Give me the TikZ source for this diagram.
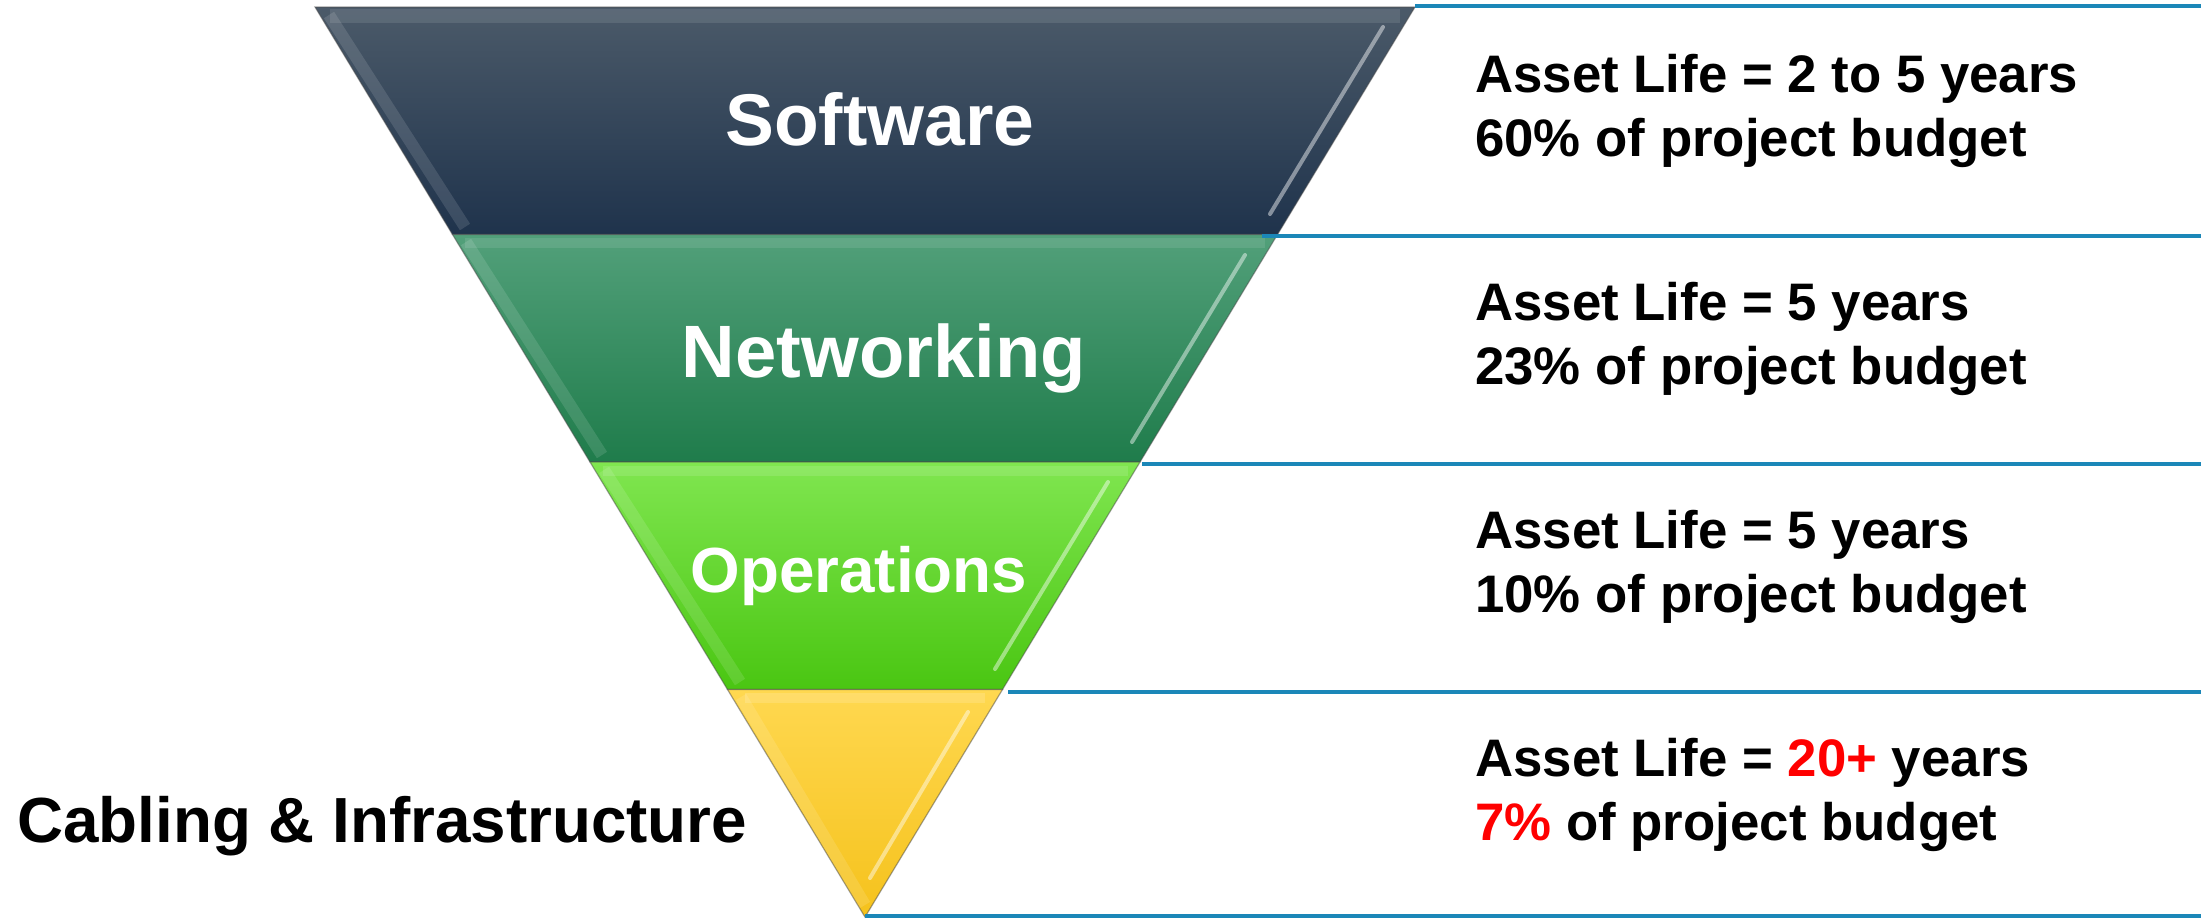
\documentclass[tikz,border=0pt]{standalone}
\usepackage{fontspec}
\setmainfont{Liberation Sans}
\definecolor{rule}{HTML}{1B87B8}
\definecolor{swTop}{HTML}{4B5A69}
\definecolor{swMid}{HTML}{263B52}
\definecolor{swBot}{HTML}{1F334C}
\definecolor{nwTop}{HTML}{52A07A}
\definecolor{nwMid}{HTML}{2F9063}
\definecolor{nwBot}{HTML}{1F7C4B}
\definecolor{opTop}{HTML}{80E650}
\definecolor{opMid}{HTML}{62DC2A}
\definecolor{opBot}{HTML}{4AC612}
\definecolor{cbTop}{HTML}{FFD850}
\definecolor{cbMid}{HTML}{FFD033}
\definecolor{cbBot}{HTML}{F5C21C}
\definecolor{hot}{HTML}{FF0000}
\tikzset{
  bandedge/.style={draw=black!70, draw opacity=0.5, line width=1.2bp},
  hilite/.style={white, opacity=0.45, line width=4bp, line cap=round},
  lobevel/.style={white, opacity=0.12, line width=12bp},
  rulerline/.style={rule, line width=3.2bp},
  bandlabel/.style={text=white, font=\bfseries\fontsize{73.5}{80}\selectfont, inner sep=0pt, anchor=base},
  infotext/.style={text=black, font=\bfseries\fontsize{53}{60}\selectfont, inner sep=0pt, anchor=base west},
}
\begin{document}
\begin{tikzpicture}[x=1bp,y=-1bp]
\useasboundingbox (0,0) rectangle (2201,919);
\fill[white] (0,0) rectangle (2201,919);
% bands
\shade[top color=swTop, middle color=swMid, bottom color=swBot, bandedge]
  (315,7) -- (1415,7) -- (1277.5,234.5) -- (452.5,234.5) -- cycle;
\shade[top color=nwTop, middle color=nwMid, bottom color=nwBot, bandedge]
  (452.5,234.5) -- (1277.5,234.5) -- (1140,462) -- (590,462) -- cycle;
\shade[top color=opTop, middle color=opMid, bottom color=opBot, bandedge]
  (590,462) -- (1140,462) -- (1002.5,689.5) -- (727.5,689.5) -- cycle;
\shade[top color=cbTop, middle color=cbMid, bottom color=cbBot, bandedge]
  (727.5,689.5) -- (1002.5,689.5) -- (865,917) -- cycle;
% bevel hints
\draw[lobevel] (329,15) -- (465,227);
\draw[lobevel] (466,242) -- (602,455);
\draw[lobevel] (604,470) -- (740,682);
\draw[lobevel] (741,697) -- (865,905);
\draw[hilite] (1383,27) -- (1270,214);
\draw[hilite] (1245,255) -- (1132,442);
\draw[hilite] (1108,482) -- (995,669);
\draw[hilite] (968,712) -- (870,878);
\draw[white, opacity=0.10, line width=14bp] (330,16) -- (1400,16);
\draw[white, opacity=0.10, line width=10bp] (465,243) -- (1265,243);
\draw[white, opacity=0.12, line width=10bp] (603,471) -- (1128,471);
\draw[white, opacity=0.15, line width=10bp] (745,698) -- (985,698);
% rules
\coordinate (r1a) at (1415,6);   \coordinate (r1b) at (2201,6);
\coordinate (r2a) at (1262,236); \coordinate (r2b) at (2201,236);
\coordinate (r3a) at (1142,464); \coordinate (r3b) at (2201,464);
\coordinate (r4a) at (1008,692); \coordinate (r4b) at (2201,692);
\coordinate (r5a) at (865,916);  \coordinate (r5b) at (2201,916);
\draw[rulerline] (r1a) -- (r1b);
\draw[rulerline] (r2a) -- (r2b);
\draw[rulerline] (r3a) -- (r3b);
\draw[rulerline] (r4a) -- (r4b);
\draw[rulerline] (r5a) -- (r5b);
% band labels
\node[bandlabel] (sw) at (880,145) {Software};
\node[bandlabel, font=\bfseries\fontsize{74.5}{80}\selectfont] (nw) at (884,377) {Networking};
\node[bandlabel, font=\bfseries\fontsize{64}{70}\selectfont] (op) at (859,592) {Operations};
\node[inner sep=0pt, anchor=base west, font=\bfseries\fontsize{64}{70}\selectfont] (cb) at (17,842) {Cabling \& Infrastructure};
% info texts
\node[infotext] (a1) at (1475,92)  {Asset Life = 2 to 5 years};
\node[infotext] (b1) at (1475,156) {60\% of project budget};
\node[infotext] (a2) at (1475,320) {Asset Life = 5 years};
\node[infotext] (b2) at (1475,384) {23\% of project budget};
\node[infotext] (a3) at (1475,548) {Asset Life = 5 years};
\node[infotext] (b3) at (1475,612) {10\% of project budget};
\node[infotext] (a4) at (1475,776) {Asset Life = \textcolor{hot}{20+} years};
\node[infotext] (b4) at (1475,840) {\textcolor{hot}{7\%} of project budget};
\end{tikzpicture}
\end{document}
